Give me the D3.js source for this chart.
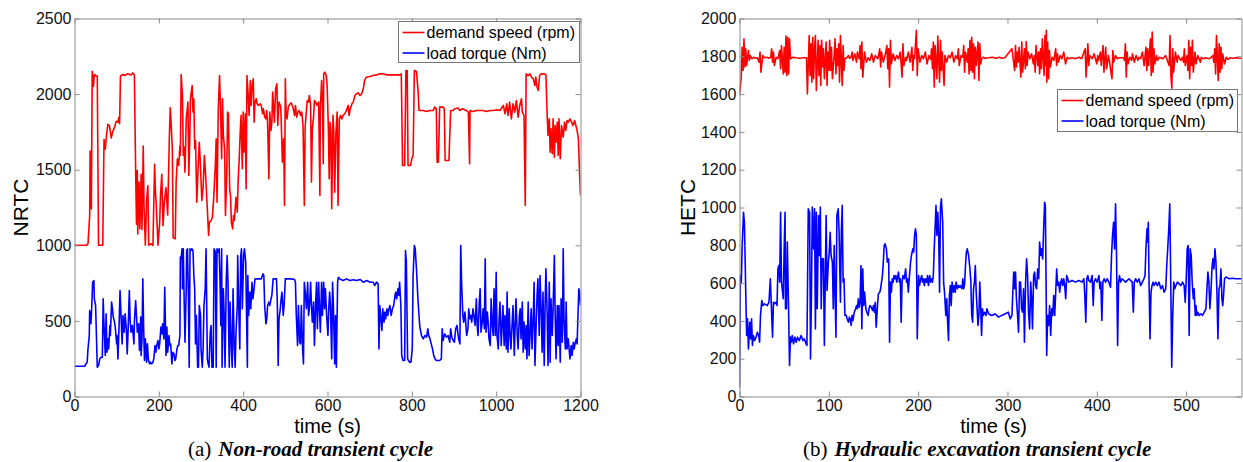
<!DOCTYPE html>
<html>
<head>
<meta charset="utf-8">
<script src="https://cdn.jsdelivr.net/npm/d3@7"></script>
<style>
  html, body { margin: 0; padding: 0; background: #fff; }
  svg { display: block; }
</style>
</head>
<body>
<svg id="chart" width="1243" height="462"></svg>
<script>
// ---- data: [time (s), value] ----
const nrtcSpeed = [[0,1000],[28,1000],[32,1010],[36,1195],[37,1624],[40,1240],[42,2150],[45,2050],[47,2130],[51,2120],[54,2120],[57,1000],[67,1000],[70,1700],[73,1635],[75,1700],[79,1800],[83,1790],[87,1710],[91,1755],[95,1780],[99,1820],[103,1815],[105,1845],[107,1805],[109,2120],[115,2130],[119,2123],[126,2134],[134,2127],[138,2140],[142,2127],[145,1500],[147,1140],[149,1495],[150,1075],[153,1418],[155,1110],[158,1470],[160,1105],[163,1657],[165,1240],[168,1000],[171,1300],[174,1393],[176,1000],[182,1010],[186,1000],[190,1535],[192,1350],[194,1260],[198,1000],[202,1150],[204,1330],[207,1470],[210,1130],[213,1285],[217,1382],[221,1200],[225,1722],[227,1910],[229,1810],[232,1638],[234,1050],[239,1043],[241,1418],[244,1572],[247,1528],[250,1657],[251,1594],[253,2130],[256,1990],[258,1594],[260,1650],[262,1484],[265,1836],[269,1947],[271,1462],[273,1660],[275,1969],[277,2013],[279,2057],[281,1881],[283,1969],[285,1638],[287,1693],[290,1285],[294,1572],[296,1682],[299,1506],[302,1296],[305,1384],[308,1594],[311,1462],[315,1241],[318,1065],[320,1153],[324,1164],[327,1186],[330,1307],[334,1528],[336,1704],[338,1285],[341,1903],[344,2123],[346,1936],[349,1572],[351,1969],[353,1726],[356,1638],[358,1197],[361,1462],[363,1881],[365,1870],[368,1373],[370,1329],[372,1153],[375,1109],[377,1197],[379,1164],[383,1318],[386,1219],[388,1418],[391,1594],[393,1748],[395,1859],[398,1506],[400,1881],[402,1616],[405,1870],[407,1373],[409,2123],[412,1991],[414,1859],[417,2090],[419,1925],[421,2046],[424,2101],[426,1814],[428,1947],[431,1969],[433,1936],[436,1925],[440,1936],[443,1925],[446,1870],[448,1903],[451,1848],[454,1836],[456,1892],[458,1803],[461,1440],[463,1881],[466,1759],[468,1814],[470,2013],[473,1859],[474,1814],[477,2035],[480,2068],[482,1792],[485,1947],[489,1914],[490,1848],[493,1550],[496,1704],[498,1263],[500,2101],[502,1859],[504,1836],[507,1914],[511,1936],[514,1942],[518,1914],[522,1859],[524,1925],[527,1848],[530,1881],[533,1892],[536,1859],[539,1881],[542,1792],[545,1263],[547,1781],[549,1859],[552,1958],[555,1947],[557,1991],[560,1925],[562,1418],[564,1770],[567,1848],[569,1958],[572,1947],[575,1925],[579,1947],[582,1329],[583,1903],[586,2090],[588,1936],[590,1539],[591,2134],[594,2145],[597,2123],[599,2068],[602,1781],[604,1440],[606,1814],[608,1759],[610,1241],[613,1859],[615,1748],[617,1351],[620,1748],[623,1881],[625,1263],[628,1836],[631,1859],[634,1836],[637,1859],[641,1870],[645,1892],[649,1925],[651,1859],[654,1903],[658,1936],[661,1947],[665,1991],[669,2002],[673,2008],[677,1991],[681,2002],[685,2035],[688,2090],[692,2112],[700,2116],[708,2123],[716,2127],[724,2134],[732,2134],[740,2127],[748,2127],[756,2127],[764,2127],[771,2127],[775,2134],[778,1528],[783,1528],[786,2156],[789,2156],[791,1528],[797,1528],[800,1572],[803,1594],[806,2156],[811,2150],[815,2013],[817,1892],[827,1892],[835,1885],[843,1892],[851,1892],[854,1914],[858,1903],[860,1550],[863,1550],[866,1914],[874,1914],[877,1903],[879,1561],[888,1561],[892,1892],[898,1892],[902,1903],[910,1908],[914,1892],[920,1903],[929,1892],[934,1881],[937,1539],[938,1892],[945,1885],[953,1892],[961,1892],[969,1892],[977,1885],[985,1892],[993,1892],[1001,1897],[1009,1892],[1017,1925],[1021,1870],[1025,1936],[1028,1859],[1032,1947],[1036,1836],[1040,1936],[1044,1881],[1048,1958],[1052,1848],[1056,1925],[1060,1969],[1062,1881],[1066,1859],[1069,1263],[1071,2134],[1076,2123],[1080,2134],[1084,2112],[1088,2101],[1092,2057],[1094,2112],[1097,2046],[1100,2024],[1103,2123],[1107,2134],[1113,2134],[1118,2127],[1121,1859],[1123,1726],[1126,1836],[1128,1616],[1130,1770],[1133,1605],[1135,1836],[1138,1583],[1140,1792],[1142,1682],[1145,1814],[1147,1594],[1149,1836],[1152,1572],[1155,1792],[1159,1715],[1162,1814],[1165,1759],[1168,1825],[1171,1814],[1175,1836],[1179,1814],[1182,1792],[1186,1825],[1189,1792],[1192,1759],[1195,1704],[1198,1462],[1200,1329]];

const nrtcTorque = [[0,200],[24,200],[26,210],[30,227],[32,315],[35,403],[36,569],[39,481],[41,602],[43,756],[46,767],[47,646],[50,602],[52,403],[54,194],[57,205],[60,249],[63,260],[66,260],[68,646],[70,470],[73,271],[75,547],[77,293],[79,381],[81,315],[84,470],[85,403],[88,624],[90,580],[92,525],[95,492],[97,448],[100,348],[101,403],[103,249],[106,492],[108,701],[111,492],[113,348],[115,536],[118,425],[120,547],[123,448],[125,282],[127,425],[130,701],[132,503],[134,425],[137,470],[139,414],[141,348],[142,492],[145,635],[147,536],[149,425],[152,481],[154,304],[157,525],[158,271],[160,370],[162,778],[164,448],[166,238],[168,381],[171,227],[173,348],[175,249],[178,216],[180,227],[183,216],[186,227],[188,249],[191,337],[193,293],[195,337],[198,370],[200,315],[202,348],[205,459],[207,414],[209,481],[212,381],[214,723],[217,271],[219,459],[221,293],[224,403],[226,337],[228,348],[231,216],[233,293],[236,282],[238,238],[240,249],[243,315],[245,337],[247,337],[250,403],[251,922],[253,911],[255,977],[256,712],[258,977],[260,646],[262,359],[265,712],[266,966],[268,977],[270,679],[272,194],[274,977],[276,966],[278,977],[281,966],[283,800],[285,712],[287,348],[289,536],[292,194],[294,194],[296,602],[299,536],[300,315],[303,194],[305,315],[307,602],[310,712],[312,977],[315,249],[317,216],[319,194],[322,425],[324,470],[326,194],[329,194],[331,977],[334,955],[336,194],[338,977],[341,955],[343,977],[345,778],[347,470],[349,977],[350,194],[353,712],[355,536],[357,194],[360,778],[362,933],[364,756],[367,194],[369,624],[372,315],[374,194],[376,712],[379,315],[381,194],[383,425],[386,602],[387,933],[390,536],[392,315],[394,922],[396,977],[398,580],[401,933],[403,977],[406,889],[408,536],[410,194],[411,800],[413,536],[416,690],[418,580],[421,756],[423,646],[425,690],[428,776],[429,778],[435,778],[443,778],[447,811],[449,800],[451,602],[454,481],[456,514],[458,602],[461,624],[463,602],[466,646],[468,668],[471,778],[474,778],[479,778],[481,624],[483,205],[485,514],[488,580],[490,646],[492,690],[495,536],[497,602],[500,778],[506,778],[514,778],[522,774],[524,756],[526,536],[529,337],[531,602],[534,359],[536,348],[538,602],[541,315],[543,216],[545,756],[548,668],[550,580],[553,756],[555,536],[557,580],[560,756],[562,602],[564,492],[567,624],[569,337],[572,624],[574,756],[576,448],[579,756],[581,580],[583,425],[586,756],[588,536],[591,756],[593,580],[595,712],[598,536],[601,403],[603,580],[605,690],[607,602],[610,249],[612,756],[614,602],[617,216],[619,536],[621,194],[624,756],[626,789],[629,778],[637,767],[645,778],[653,767],[661,772],[669,767],[677,774],[685,756],[693,767],[701,756],[708,756],[712,734],[716,756],[720,745],[722,315],[724,602],[726,536],[729,437],[731,580],[734,492],[736,558],[738,514],[741,580],[743,536],[745,569],[748,602],[751,536],[754,580],[757,602],[760,668],[762,690],[764,646],[767,712],[769,668],[771,756],[774,602],[776,271],[779,238],[783,238],[785,966],[787,889],[790,249],[792,238],[795,227],[798,227],[801,315],[803,800],[806,999],[808,977],[811,844],[814,668],[817,536],[819,459],[823,403],[827,381],[831,403],[835,392],[838,448],[840,403],[843,381],[846,348],[849,315],[852,271],[855,249],[858,238],[862,238],[866,238],[870,249],[872,448],[874,370],[878,414],[882,392],[886,403],[890,359],[892,448],[895,392],[898,370],[901,359],[904,448],[907,470],[911,381],[914,348],[916,999],[918,756],[921,536],[923,492],[926,558],[930,403],[933,448],[935,580],[938,514],[940,536],[942,492],[945,580],[948,514],[950,470],[953,646],[955,470],[957,403],[960,624],[962,712],[964,425],[967,492],[969,580],[972,448],[974,910],[976,425],[979,558],[981,492],[983,381],[986,337],[988,646],[991,459],[993,403],[995,712],[998,403],[1000,822],[1002,403],[1005,315],[1007,514],[1009,624],[1012,337],[1014,470],[1016,602],[1019,337],[1021,536],[1024,315],[1026,690],[1028,293],[1031,580],[1033,403],[1035,315],[1038,492],[1040,602],[1043,271],[1045,470],[1047,646],[1050,403],[1052,315],[1055,536],[1057,580],[1059,381],[1062,624],[1064,293],[1066,492],[1069,315],[1071,470],[1073,249],[1076,624],[1078,271],[1081,448],[1083,580],[1085,315],[1088,536],[1090,756],[1092,205],[1095,492],[1097,668],[1099,778],[1102,403],[1104,800],[1107,536],[1109,293],[1111,690],[1114,205],[1116,602],[1118,844],[1121,536],[1123,205],[1126,756],[1128,227],[1130,646],[1133,403],[1135,580],[1138,932],[1140,536],[1142,249],[1145,602],[1147,337],[1149,602],[1152,227],[1154,646],[1157,359],[1159,977],[1161,514],[1164,315],[1166,624],[1168,315],[1171,381],[1173,315],[1175,249],[1178,337],[1180,271],[1183,359],[1185,315],[1187,348],[1190,381],[1192,348],[1194,536],[1196,712],[1198,690],[1200,602]];

const hetcSpeed = [[0,1601],[1,1640],[2,1698],[3,1848],[4,1725],[5,1892],[6,1743],[7,1840],[8,1751],[10,1831],[11,1778],[12,1804],[14,1787],[16,1795],[18,1790],[20,1792],[22,1769],[23,1822],[24,1716],[26,1804],[28,1792],[31,1795],[33,1790],[35,1795],[36,1840],[37,1769],[38,1822],[39,1751],[41,1795],[43,1787],[45,1831],[46,1734],[47,1857],[49,1707],[50,1848],[51,1716],[52,1907],[53,1698],[54,1901],[55,1707],[56,1892],[57,1787],[60,1795],[63,1792],[67,1790],[72,1792],[75,1792],[76,1601],[78,1910],[79,1698],[80,1866],[81,1663],[82,1901],[83,1681],[84,1840],[85,1910],[86,1619],[88,1884],[89,1698],[90,1857],[91,1646],[92,1884],[93,1743],[94,1840],[95,1681],[97,1875],[98,1646],[99,1822],[100,1725],[101,1884],[102,1725],[103,1848],[104,1681],[106,1804],[107,1892],[108,1707],[109,1840],[110,1751],[111,1866],[112,1663],[113,1910],[115,1646],[116,1857],[117,1725],[118,1787],[120,1792],[122,1804],[123,1790],[125,1795],[126,1822],[127,1778],[129,1813],[131,1769],[132,1822],[134,1787],[135,1857],[136,1734],[137,1875],[138,1690],[140,1822],[142,1769],[144,1792],[146,1778],[148,1813],[150,1769],[152,1804],[155,1787],[157,1840],[158,1743],[159,1822],[161,1769],[163,1804],[165,1857],[166,1734],[167,1840],[168,1637],[169,1884],[170,1760],[172,1813],[174,1778],[176,1804],[178,1787],[180,1822],[182,1690],[183,1866],[184,1751],[186,1795],[187,1778],[189,1822],[191,1769],[193,1848],[194,1725],[195,1804],[196,1787],[198,1937],[199,1698],[200,1840],[202,1769],[204,1804],[206,1787],[208,1822],[210,1760],[212,1804],[214,1784],[215,1840],[216,1734],[217,1875],[218,1637],[219,1857],[221,1681],[222,1907],[224,1663],[225,1884],[226,1725],[227,1822],[229,1646],[230,1804],[232,1769],[234,1804],[236,1792],[238,1822],[240,1769],[242,1804],[244,1787],[245,1840],[246,1751],[248,1804],[250,1795],[251,1857],[252,1716],[253,1822],[255,1769],[256,1840],[257,1707],[258,1884],[259,1725],[260,1901],[261,1716],[262,1866],[263,1681],[264,1848],[265,1751],[267,1875],[268,1672],[269,1866],[270,1760],[271,1787],[273,1795],[275,1790],[279,1792],[283,1795],[287,1790],[291,1795],[294,1790],[297,1792],[305,1840],[308,1725],[309,1857],[310,1743],[311,1822],[312,1769],[313,1848],[315,1690],[316,1875],[317,1716],[319,1840],[320,1734],[321,1878],[322,1751],[323,1822],[325,1787],[327,1813],[329,1760],[330,1804],[331,1716],[332,1857],[334,1751],[335,1822],[336,1707],[337,1840],[338,1734],[339,1892],[341,1698],[342,1910],[343,1751],[343.5,1937],[344,1663],[345,1875],[346,1681],[347,1831],[348,1743],[350,1795],[352,1778],[354,1840],[355,1751],[356,1813],[357,1769],[359,1804],[361,1787],[363,1822],[365,1760],[367,1795],[369,1787],[372,1792],[376,1787],[380,1795],[383,1787],[387,1840],[388,1690],[390,1866],[391,1751],[392,1804],[395,1787],[397,1813],[400,1760],[401,1804],[402,1778],[404,1822],[405,1751],[407,1857],[408,1716],[410,1848],[411,1734],[413,1804],[414,1778],[417,1681],[418,1831],[419,1769],[421,1804],[423,1787],[425,1792],[430,1792],[431,1778],[432,1866],[433,1690],[434,1822],[435,1760],[437,1795],[439,1778],[440,1813],[442,1769],[444,1804],[446,1778],[447,1795],[449,1787],[451,1822],[453,1751],[455,1848],[456,1725],[457,1840],[458,1751],[460,1892],[461,1698],[462,1928],[463,1716],[464,1840],[465,1760],[467,1804],[468,1778],[470,1795],[474,1787],[477,1804],[481,1751],[482,1910],[483,1698],[484,1631],[485,1840],[486,1716],[488,1822],[490,1769],[491,1804],[494,1778],[496,1795],[497,1769],[498,1840],[499,1751],[501,1804],[502,1725],[503,1884],[504,1681],[505,1848],[506,1751],[507,1884],[508,1716],[510,1822],[511,1760],[513,1804],[516,1769],[517,1795],[519,1787],[522,1792],[526,1787],[530,1804],[531,1769],[532,1840],[533,1707],[534,1910],[536,1672],[537,1866],[538,1716],[539,1848],[540,1734],[541,1813],[543,1760],[545,1795],[547,1783],[549,1792],[552,1790],[556,1792],[560,1790],[565,1790]];

const hetcTorque = [[0,49],[1,640],[2,605],[3,799],[4.5,975],[5.5,922],[7,552],[8,323],[9,411],[10,252],[11.5,393],[12.5,305],[13.5,411],[14.5,270],[15.5,323],[17,296],[18.5,314],[20,340],[21.5,323],[22.5,287],[23.5,429],[25,508],[26,481],[28,490],[31,481],[33,499],[34.5,623],[35.5,499],[37,314],[38,499],[39,490],[41,499],[42,481],[43,675],[44,693],[45,605],[46,975],[47,605],[49,517],[50,781],[51,975],[51.5,464],[52.5,464],[53.5,817],[55,446],[56,164],[57,314],[58,287],[59,323],[60.5,279],[62,314],[63.5,287],[65,314],[67,296],[69,323],[71,296],[72.5,305],[74.5,279],[75.5,270],[77,993],[78.5,975],[79.5,199],[80.5,517],[81.5,1002],[83,781],[84,993],[85,358],[86,975],[87,464],[88.5,958],[89.5,746],[90.5,1002],[91.5,464],[92.5,728],[94,728],[95,270],[96,605],[97,958],[98,561],[99.5,711],[100.5,764],[101.5,869],[102.5,746],[104,711],[105,464],[106,799],[107,552],[108,314],[109,958],[110.5,993],[111.5,869],[113,499],[114,869],[115,1011],[116,605],[117,623],[118,429],[119.5,429],[120.5,411],[122,393],[123,420],[124,411],[125,376],[126,429],[127,402],[128.5,446],[130,464],[131,481],[132,464],[133,517],[134,473],[135,499],[136,693],[137,358],[138,675],[139,481],[140,552],[141.5,464],[142.5,446],[144,429],[145,464],[146,481],[147.5,473],[149,455],[150,481],[151,446],[152,499],[153,367],[154.5,481],[155.5,543],[157,552],[158,570],[159,605],[160,640],[161,711],[162,799],[163,808],[164.5,781],[165.5,711],[167,728],[168,287],[169,605],[170,552],[171,623],[172,605],[173,640],[174,623],[175,640],[176,605],[178,658],[179,605],[180,623],[181,393],[182,605],[183,640],[184.5,623],[186,675],[187,605],[188,623],[189,552],[190,623],[191.5,711],[192.5,746],[194,781],[195,764],[196,852],[197,887],[198,852],[199,305],[200.5,640],[201.5,587],[203,623],[204,640],[205,605],[206,623],[207,587],[208,623],[209.5,605],[210.5,640],[211.5,587],[213,640],[214,605],[215,623],[216,605],[217,640],[218,781],[220,1011],[221,852],[222,975],[223,852],[224,552],[225,1002],[226,1046],[227.5,922],[228.5,605],[229.5,552],[231,429],[232,517],[233,393],[234,296],[235,534],[236,587],[237,481],[238,605],[239.5,552],[240.5,587],[241.5,552],[242.5,605],[244,570],[245,587],[246,578],[247,587],[249,570],[250,623],[251,570],[252,596],[253,693],[254,764],[255,781],[256.5,746],[258,675],[259,605],[260,429],[261,393],[262,570],[263,605],[264,693],[265,552],[267,376],[268,429],[269,605],[270,481],[271,323],[272,464],[273,429],[274.5,446],[276,429],[277,464],[279,437],[282.5,429],[286,437],[290,420],[293.5,429],[297,437],[301,446],[303,411],[305,429],[305.7,517],[307,658],[308,570],[309,658],[310,517],[311.3,429],[312.4,340],[313.5,605],[314.6,605],[315.8,464],[317,446],[318,570],[319,287],[320.3,605],[321.4,728],[322.5,640],[323.6,446],[324.8,358],[326,605],[327,517],[328,358],[329.3,640],[330.4,658],[331.5,587],[332.6,570],[333.8,675],[335,623],[336,817],[337.2,746],[338.2,781],[339.4,728],[340.5,887],[341.6,1028],[342.4,1011],[343.1,675],[343.9,217],[345,429],[346.1,376],[347.2,481],[348.4,323],[349.5,464],[350.6,429],[351.8,534],[352.9,429],[354,552],[355.1,675],[356.2,587],[357.4,605],[358.5,552],[359.6,605],[360.7,623],[361.8,587],[363,623],[364.1,587],[365.2,517],[366.3,640],[367.5,623],[368.6,605],[372.3,614],[376,605],[379.8,614],[383.6,605],[385.5,623],[386.6,534],[387.7,393],[388.8,623],[390,640],[391,614],[393,605],[394.8,640],[396,481],[397,605],[398.6,623],[400.4,605],[402.4,640],[403.4,570],[404.5,605],[405.7,402],[406.8,605],[408.3,623],[409.8,605],[411.7,623],[413.5,605],[415.4,578],[416.5,746],[417.6,852],[418.8,922],[419.9,781],[421,1019],[422.1,746],[423.3,270],[424.4,605],[425.5,640],[426.6,605],[428.5,623],[430.4,614],[432.3,605],[436,623],[439.7,605],[440.9,446],[442,605],[443.5,623],[445.4,605],[447.2,623],[449.1,587],[451,605],[452.8,623],[454,640],[455,781],[456.2,887],[457,817],[457.7,922],[458.5,605],[459.6,305],[460.7,552],[461.8,587],[463,605],[464,587],[466,605],[467.8,587],[469.7,605],[471.6,570],[473.5,587],[475.3,552],[477.2,570],[478.3,693],[479.4,781],[480.6,887],[481.7,1019],[482.8,605],[483.9,155],[485,429],[486.2,605],[487.3,570],[488.5,587],[490.3,605],[492.2,596],[494,587],[496,605],[497.8,587],[499,499],[500,605],[501.2,781],[502.3,799],[503.4,323],[504.5,781],[505.7,746],[506.8,605],[508,517],[509,570],[510.2,429],[511,481],[512,429],[513.2,446],[514.7,429],[516.5,437],[518.4,429],[520.3,446],[522.2,464],[523.3,570],[524.4,658],[525.5,605],[526.6,464],[527.8,552],[528.9,675],[530,728],[531.1,675],[532.3,781],[533.4,711],[534.5,552],[535.6,305],[536.8,570],[537.9,587],[539,675],[540.1,517],[541,481],[541.9,534],[543,623],[544.6,632],[548.4,623],[552,626],[555.9,623],[559.6,623],[565,623]];

const nrtcXTicks = [0, 200, 400, 600, 800, 1000, 1200];
const nrtcYTicks = [0, 500, 1000, 1500, 2000, 2500];
const hetcXTicks = [0, 100, 200, 300, 400, 500];
const hetcYTicks = [0, 200, 400, 600, 800, 1000, 1200, 1400, 1600, 1800, 2000];
const seriesNames = ["demand speed (rpm)", "load torque (Nm)"];
const seriesColors = ["#ff0000", "#0000ff"];

const svg = d3.select("#chart");
const sans = "'Liberation Sans', Arial, Helvetica, sans-serif";
const serif = "'Liberation Serif', 'Times New Roman', serif";
const axisGray = "#8a8a8a";
const plain = d3.format("d");

function drawPanel(p) {
  const x = d3.scaleLinear().domain(p.xDomain).range([p.left, p.right]);
  const y = d3.scaleLinear().domain(p.yDomain).range([p.bottom, p.top]);
  const g = svg.append("g");

  const clipId = "clip-" + p.id;
  g.append("clipPath").attr("id", clipId)
    .append("rect")
    .attr("x", p.left).attr("y", p.top)
    .attr("width", p.right - p.left).attr("height", p.bottom - p.top);

  const line = d3.line().x(d => x(d[0])).y(d => y(d[1]));
  const lines = g.append("g").attr("clip-path", `url(#${clipId})`);
  p.series.forEach((s, i) => {
    lines.append("path")
      .datum(s)
      .attr("fill", "none")
      .attr("stroke", seriesColors[i])
      .attr("stroke-width", 1.6)
      .attr("stroke-linejoin", "round")
      .attr("d", line);
  });

  // axes: ticks pointing inward, box on all four sides
  const styleAxis = sel => {
    sel.selectAll(".domain").attr("stroke", axisGray);
    sel.selectAll(".tick line").attr("stroke", axisGray);
    sel.selectAll("text")
      .attr("fill", "#111")
      .style("font-family", sans)
      .style("font-size", "16px");
  };
  g.append("g")
    .attr("transform", `translate(0,${p.bottom})`)
    .call(d3.axisBottom(x).tickValues(p.xTicks).tickFormat(plain).tickSize(-5).tickSizeOuter(0).tickPadding(3))
    .call(styleAxis);
  g.append("g")
    .attr("transform", `translate(0,${p.top})`)
    .call(d3.axisTop(x).tickValues(p.xTicks).tickSize(-5).tickSizeOuter(0).tickFormat(""))
    .call(styleAxis);
  g.append("g")
    .attr("transform", `translate(${p.left},0)`)
    .call(d3.axisLeft(y).tickValues(p.yTicks).tickFormat(plain).tickSize(-5).tickSizeOuter(0).tickPadding(3))
    .call(styleAxis);
  g.append("g")
    .attr("transform", `translate(${p.right},0)`)
    .call(d3.axisRight(y).tickValues(p.yTicks).tickSize(-5).tickSizeOuter(0).tickFormat(""))
    .call(styleAxis);

  // axis titles
  g.append("text")
    .attr("transform", `translate(${p.yTitleX},${(p.top + p.bottom) / 2}) rotate(-90)`)
    .attr("text-anchor", "middle")
    .attr("dy", "0.35em")
    .style("font-family", sans)
    .style("font-size", "21px")
    .text(p.yTitle);
  g.append("text")
    .attr("x", (p.left + p.right) / 2 + p.xTitleShift)
    .attr("y", 432.5)
    .attr("text-anchor", "middle")
    .style("font-family", sans)
    .style("font-size", "20px")
    .text("time (s)");

  // legend
  const lg = g.append("g").attr("transform", `translate(${p.legend.x},${p.legend.y})`);
  lg.append("rect")
    .attr("width", p.legend.w).attr("height", p.legend.h)
    .attr("fill", "#fff").attr("stroke", "#777").attr("stroke-width", 1);
  seriesNames.forEach((name, i) => {
    const ly = 11 + i * 20.5;
    lg.append("line")
      .attr("x1", 4).attr("x2", 26).attr("y1", ly).attr("y2", ly)
      .attr("stroke", seriesColors[i]).attr("stroke-width", 1.6);
    lg.append("text")
      .attr("x", 28).attr("y", ly).attr("dy", "0.36em")
      .style("font-family", sans).style("font-size", "16px")
      .text(name);
  });

  // caption
  const cap = g.append("text")
    .attr("x", p.caption.x).attr("y", 456)
    .style("font-family", serif).style("font-size", "21px");
  cap.append("tspan").text(p.caption.tag);
  cap.append("tspan").attr("dx", 7)
    .style("font-weight", "bold").style("font-style", "italic")
    .text(p.caption.text);
}

drawPanel({
  id: "a", left: 74.5, right: 580.5, top: 18.5, bottom: 396.5,
  xDomain: [0, 1200], yDomain: [0, 2500],
  xTicks: nrtcXTicks, yTicks: nrtcYTicks,
  series: [nrtcSpeed, nrtcTorque],
  yTitle: "NRTC", yTitleX: 21, xTitleShift: 0,
  legend: { x: 398.5, y: 21.5, w: 181, h: 41 },
  caption: { x: 188, tag: "(a)", text: "Non-road transient cycle" }
});

drawPanel({
  id: "b", left: 739.5, right: 1241.5, top: 18.5, bottom: 396.5,
  xDomain: [0, 562], yDomain: [0, 2000],
  xTicks: hetcXTicks, yTicks: hetcYTicks,
  series: [hetcSpeed, hetcTorque],
  yTitle: "HETC", yTitleX: 688, xTitleShift: 3,
  legend: { x: 1057.5, y: 89.5, w: 180, h: 42 },
  caption: { x: 803, tag: "(b)", text: "Hydraulic excavation transient cycle" }
});
</script>
</body>
</html>
